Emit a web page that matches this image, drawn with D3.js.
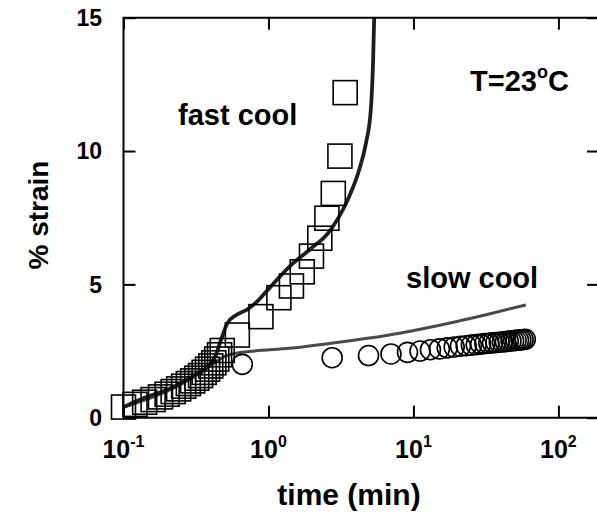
<!DOCTYPE html>
<html>
<head>
<meta charset="utf-8">
<script src="https://cdn.jsdelivr.net/npm/d3@7"></script>
<style>
  html, body { margin: 0; padding: 0; background: #fff; }
  svg text { font-family: "Liberation Sans", Arial, sans-serif; font-weight: bold; fill: #000; }
</style>
</head>
<body>
<svg id="chart" width="597" height="516"></svg>
<script>
// Creep strain vs. time at 23 °C: fast-cooled (squares) and slow-cooled (circles) samples
const fastTime = [0.10, 0.12, 0.14, 0.16, 0.18, 0.20, 0.22, 0.24, 0.26, 0.28, 0.30, 0.32, 0.34, 0.36, 0.38, 0.40, 0.42, 0.44, 0.46, 0.48,
                  0.61, 0.887, 1.18, 1.44, 1.71, 1.98, 2.26, 2.53, 2.80, 3.11, 3.38];
const fastStrain = [0.40, 0.50, 0.58, 0.68, 0.78, 0.88, 0.98, 1.08, 1.18, 1.28, 1.38, 1.48, 1.58, 1.70, 1.82, 1.94, 2.06, 2.20, 2.36, 2.52,
                    3.10, 3.79, 4.50, 4.94, 5.47, 6.06, 6.73, 7.48, 8.41, 9.81, 12.19];

const slowTime = [0.66, 2.75, 4.9, 7.0, 9.1, 11.1, 13.1, 15.1, 17.1, 19.1, 21.1, 23.1, 25.1, 27.1, 29.1,
                  31.1, 33.1, 35.1, 37.1, 39.1, 41.1, 43.1, 45.1, 47.1, 49.1, 51.1, 53.1, 55.1, 57.1, 59.1];
const slowStrain = [2.00, 2.25, 2.33, 2.39, 2.45, 2.50, 2.55, 2.58, 2.62, 2.65, 2.68, 2.70, 2.72, 2.74, 2.76,
                    2.78, 2.79, 2.81, 2.82, 2.83, 2.84, 2.85, 2.87, 2.88, 2.89, 2.90, 2.91, 2.92, 2.93, 2.94];

// Model fits
const fastFitTime = [0.10, 0.147, 0.20, 0.249, 0.30, 0.379, 0.43, 0.47, 0.52, 0.60, 0.716, 0.85, 1.01, 1.39, 1.91, 2.62, 3.07, 3.6, 4.22, 4.70, 5.08, 5.27, 5.36];
const fastFitStrain = [0.40, 0.79, 1.05, 1.29, 1.55, 1.91, 2.30, 2.91, 3.54, 3.85, 4.06, 4.40, 4.85, 5.66, 6.29, 6.97, 7.54, 8.29, 9.29, 10.29, 11.54, 13.41, 15.0];

const slowFitTime = [0.10, 0.20, 0.30, 0.40, 0.50, 0.60, 0.80, 1.39, 3.07, 6.79, 19.6, 33.3, 59.6];
const slowFitStrain = [0.40, 1.00, 1.50, 1.95, 2.30, 2.42, 2.50, 2.60, 2.83, 3.10, 3.60, 3.89, 4.23];

const xTicks = [0.1, 1, 10, 100];
const xTickExponents = ["-1", "0", "1", "2"];
const yTicks = [0, 5, 10, 15];

const svg = d3.select("#chart");
const plotLeft = 123.5, plotRight = 599, plotTop = 17.7, plotBottom = 417.7;

const x = d3.scaleLog().domain([0.1, Math.pow(10, 2.28)]).range([plotLeft, plotRight]);
const y = d3.scaleLinear().domain([0, 15]).range([plotBottom, plotTop]);

svg.append("defs").append("clipPath").attr("id", "plotClip")
  .append("rect").attr("x", plotLeft).attr("y", plotTop)
  .attr("width", plotRight - plotLeft).attr("height", plotBottom - plotTop);

const plot = svg.append("g").attr("clip-path", "url(#plotClip)");

// Markers
const side = 24;
svg.append("g").selectAll("rect")
  .data(fastTime.map((t, i) => [t, fastStrain[i]]))
  .join("rect")
  .attr("x", d => x(d[0]) - side / 2)
  .attr("y", d => y(d[1]) - side / 2)
  .attr("width", side).attr("height", side)
  .attr("fill", "none").attr("stroke", "#000").attr("stroke-width", 1.6);

svg.append("g").selectAll("circle")
  .data(slowTime.map((t, i) => [t, slowStrain[i]]))
  .join("circle")
  .attr("cx", d => x(d[0])).attr("cy", d => y(d[1])).attr("r", 10)
  .attr("fill", "none").attr("stroke", "#000").attr("stroke-width", 1.6);

// Fit curves
const line = d3.line().x(d => x(d[0])).y(d => y(d[1])).curve(d3.curveMonotoneX);
plot.append("path")
  .datum(slowFitTime.map((t, i) => [t, slowFitStrain[i]]))
  .attr("d", line).attr("fill", "none").attr("stroke", "#4a4a4a").attr("stroke-width", 3);
plot.append("path")
  .datum(fastFitTime.map((t, i) => [t, fastFitStrain[i]]))
  .attr("d", line).attr("fill", "none").attr("stroke", "#1e1e1e").attr("stroke-width", 3.8);

// Frame
svg.append("path")
  .attr("d", `M${plotRight},${plotTop}H${plotLeft}V${plotBottom}H${plotRight}`)
  .attr("stroke", "#000").attr("stroke-width", 2).attr("fill", "none");

// Axes with inward ticks
const tickLen = 12;
function styleAxis(g) {
  g.select(".domain").remove();
  g.selectAll(".tick line").attr("stroke", "#000").attr("stroke-width", 2);
}
svg.append("g").attr("transform", `translate(0,${plotBottom})`)
  .call(d3.axisBottom(x).tickValues(xTicks).tickSize(-tickLen).tickFormat("")).call(styleAxis);
svg.append("g").attr("transform", `translate(0,${plotTop})`)
  .call(d3.axisTop(x).tickValues(xTicks).tickSize(-tickLen).tickFormat("")).call(styleAxis);
svg.append("g").attr("transform", `translate(${plotLeft},0)`)
  .call(d3.axisLeft(y).tickValues(yTicks).tickSize(-tickLen).tickFormat("")).call(styleAxis);
svg.append("g").attr("transform", `translate(${plotRight},0)`)
  .call(d3.axisRight(y).tickValues(yTicks).tickSize(-tickLen).tickFormat("")).call(styleAxis);

// Tick labels
svg.append("g").selectAll("text")
  .data(yTicks)
  .join("text")
  .attr("x", 102).attr("y", d => y(d)).attr("dy", "0.36em")
  .attr("text-anchor", "end").attr("font-size", 23)
  .text(d => d);

const xl = svg.append("g").selectAll("text")
  .data(xTicks)
  .join("text")
  .attr("x", d => x(d)).attr("y", 458)
  .attr("text-anchor", "middle").attr("font-size", 25);
xl.append("tspan").text("10");
xl.append("tspan").attr("dy", -11).attr("font-size", 16).text((d, i) => xTickExponents[i]);

// Axis titles
svg.append("text").attr("x", 349).attr("y", 505).attr("text-anchor", "middle").attr("font-size", 30).text("time (min)");
svg.append("text").attr("transform", "translate(48,215) rotate(-90)").attr("text-anchor", "middle").attr("font-size", 28).text("% strain");

// Annotations
svg.append("text").attr("x", 178).attr("y", 125).attr("font-size", 29).text("fast cool");
svg.append("text").attr("x", 406).attr("y", 288).attr("font-size", 29).text("slow cool");
const tl = svg.append("text").attr("x", 470).attr("y", 91).attr("font-size", 29);
tl.append("tspan").text("T=23");
tl.append("tspan").attr("dy", -13).attr("font-size", 18).text("o");
tl.append("tspan").attr("dy", 13).text("C");
</script>
</body>
</html>
